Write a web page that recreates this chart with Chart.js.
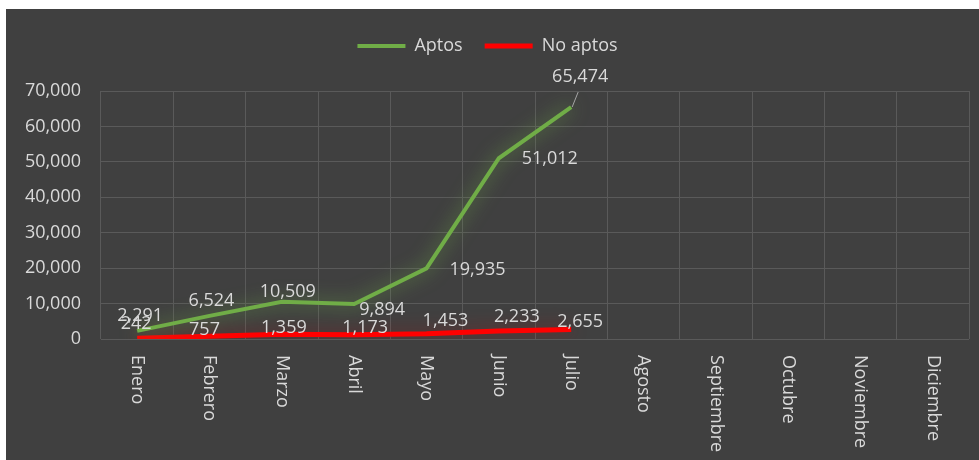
<!DOCTYPE html>
<html>
<head>
<meta charset="utf-8">
<script src="https://cdn.jsdelivr.net/npm/chart.js@4"></script>
<style>
    body { margin: 0; background: #ffffff; }
    #caja {
        position: absolute; left: 6px; top: 9px;
        width: 973px; height: 451px;
        background: #404040;
    }
</style>
</head>
<body>
<div id="caja"><canvas id="grafico"></canvas></div>
<script>
// Datos del gráfico
const meses = ['Enero', 'Febrero', 'Marzo', 'Abril', 'Mayo', 'Junio', 'Julio',
    'Agosto', 'Septiembre', 'Octubre', 'Noviembre', 'Diciembre'];
const aptos = [2291, 6524, 10509, 9894, 19935, 51012, 65474, null, null, null, null, null];
const noAptos = [242, 757, 1359, 1173, 1453, 2233, 2655, null, null, null, null, null];
const yMax = 70000;
const yPaso = 10000;

// Desplazamiento de las etiquetas de datos (dx, dy en px) respecto al punto
const posAptos = [[3, -15], [2, -15], [6, -10], [28, 6], [51, 2], [51, 1], [9, -30]];
const posNoAptos = [[-1, -14], [-5, -6], [2, -6], [11, -7], [19, -13], [18, -14], [9, -8]];

const colorTexto = '#d9d9d9';
const fuente = '"Open Sans", sans-serif';
const numero = v => v.toLocaleString('en-US');

// Brillo alrededor de las lineas
const brillo = {
    id: 'brillo',
    beforeDatasetDraw(chart, args) {
        const ctx = chart.ctx;
        ctx.save();
        ctx.shadowColor = args.index === 0 ? 'rgba(112,173,71,0.8)' : 'rgba(200,0,0,0.45)';
        ctx.shadowBlur = 18;
    },
    afterDatasetDraw(chart) {
        chart.ctx.restore();
    }
};

// Etiquetas de datos y etiquetas verticales del eje x
const etiquetas = {
    id: 'etiquetas',
    afterDatasetsDraw(chart) {
        const ctx = chart.ctx;
        ctx.save();
        ctx.font = '18px ' + fuente;
        ctx.fillStyle = colorTexto;
        ctx.textAlign = 'center';
        ctx.textBaseline = 'middle';
        [posAptos, posNoAptos].forEach((pos, d) => {
            const meta = chart.getDatasetMeta(d);
            const datos = chart.data.datasets[d].data;
            meta.data.forEach((p, i) => {
                if (datos[i] == null) return;
                const [dx, dy] = pos[i];
                if (d === 0 && i === 6) {
                    // linea guia de la ultima etiqueta
                    ctx.strokeStyle = '#a6a6a6';
                    ctx.lineWidth = 1;
                    ctx.beginPath();
                    ctx.moveTo(p.x + 1, p.y);
                    ctx.lineTo(p.x + 7, p.y - 15);
                    ctx.stroke();
                }
                ctx.fillText(numero(datos[i]), p.x + dx, p.y + dy);
            });
        });

        const xs = chart.scales.x;
        ctx.textAlign = 'left';
        meses.forEach((m, i) => {
            ctx.save();
            ctx.translate(xs.getPixelForTick(i), xs.top + 16);
            ctx.rotate(Math.PI / 2);
            ctx.fillText(m, 0, 0);
            ctx.restore();
        });
        ctx.restore();
    }
};

const ctx = document.getElementById('grafico').getContext('2d');
window.chart = new Chart(ctx, {
    type: 'line',
    data: {
        labels: meses,
        datasets: [{
            label: 'Aptos',
            data: aptos,
            borderColor: '#70ad47',
            backgroundColor: '#70ad47',
            borderWidth: 4,
            pointRadius: 0,
            tension: 0,
            fill: false
        }, {
            label: 'No aptos',
            data: noAptos,
            borderColor: '#ff0000',
            backgroundColor: '#ff0000',
            borderWidth: 5,
            pointRadius: 0,
            tension: 0,
            fill: false
        }]
    },
    options: {
        responsive: true,
        maintainAspectRatio: false,
        animation: false,
        layout: { padding: { top: 6, right: 10, left: 0, bottom: 0 } },
        plugins: {
            tooltip: { enabled: false },
            legend: {
                position: 'top',
                labels: {
                    color: colorTexto,
                    font: { size: 18, family: fuente },
                    usePointStyle: true,
                    pointStyle: 'line',
                    pointStyleWidth: 48,
                    padding: 22
                }
            }
        },
        scales: {
            x: {
                offset: true,
                grid: { color: '#5a5a5a', offset: true, drawTicks: false },
                border: { display: false },
                ticks: { display: false },
                afterFit: s => { s.height = 121; }
            },
            xArriba: {
                type: 'category',
                position: 'top',
                grid: { display: false },
                border: { display: false },
                ticks: { display: false },
                afterFit: s => { s.height = 26; }
            },
            y: {
                min: 0,
                max: yMax,
                grid: { color: '#5a5a5a', drawTicks: false },
                border: { display: false },
                ticks: {
                    stepSize: yPaso,
                    color: colorTexto,
                    padding: 20,
                    font: { size: 18, family: fuente },
                    callback: v => numero(v)
                },
                afterFit: s => { s.width = 95; }
            }
        }
    },
    plugins: [brillo, etiquetas]
});
</script>
</body>
</html>
